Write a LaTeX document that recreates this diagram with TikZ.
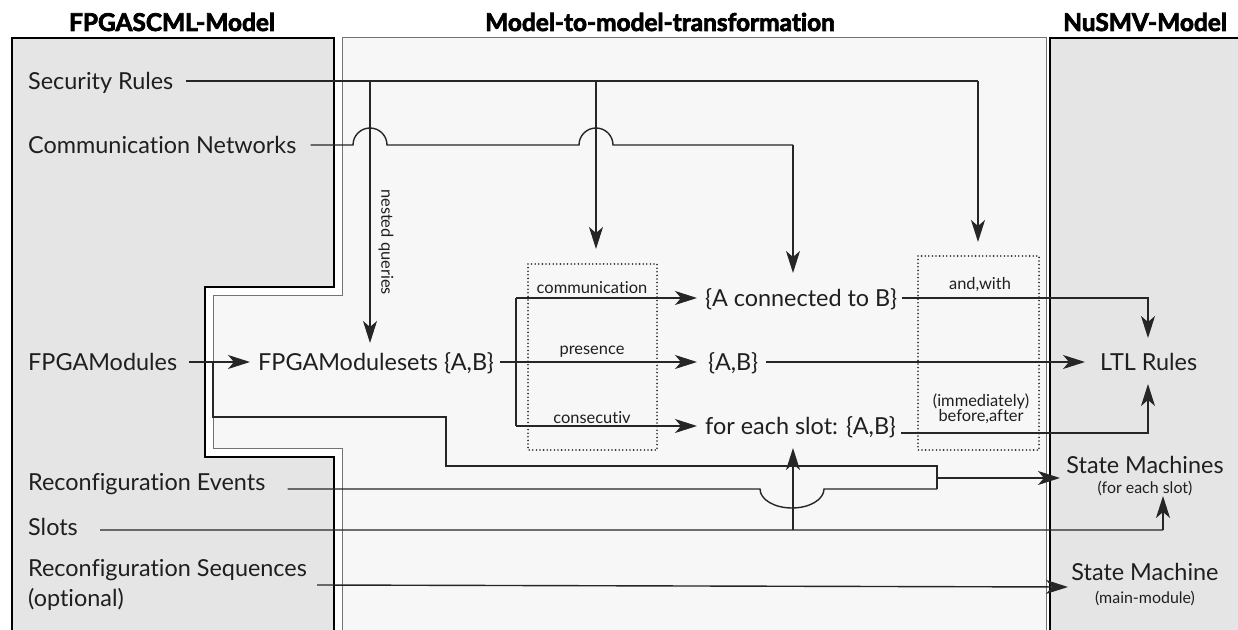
\documentclass[tikz,border=0pt]{standalone}
\usepackage{fontspec}
\setmainfont{Lato}[Ligatures=NoCommon]
\newfontfamily\headfont{Lato}[Ligatures=NoCommon, BoldFeatures={FakeBold=3}]
\usetikzlibrary{arrows.meta}

\begin{document}
\begin{tikzpicture}[x=1bp,y=-1bp,
  conn/.style={line width=1.4bp, draw=black!85},
  arr/.style={conn, -{Stealth[length=22bp,width=14bp,inset=6bp]}},
  big/.style={font=\fontsize{23.5}{30}\selectfont, inner sep=0pt, text height=16.8bp, text depth=0pt, text=black!88},
  lbl/.style={font=\fontsize{16.5}{19}\selectfont, inner sep=0pt, text=black!88},
  sub/.style={font=\fontsize{16}{18}\selectfont, inner sep=0pt, text=black!88},
  head/.style={font=\headfont\bfseries\fontsize{24.5}{28}\selectfont, inner sep=0pt},
  outer/.style={line width=2.8bp, draw=black, fill=black!10},
  inner/.style={line width=1bp, draw=black!55, fill=black!3},
  dotbox/.style={line width=1.8bp, draw=black!85, line cap=round, dash pattern=on 0bp off 3.6bp}
]
\path[use as bounding box] (0,0) rectangle (1238,630);
\clip (0,0) rectangle (1238,630);
\fill[white] (0,0) rectangle (1238,630);

% three model regions
\draw[outer] (12,38) -- (334,38) -- (334,287) -- (205,287) -- (205,457)
  -- (334,457) -- (334,650) -- (12,650) -- cycle;
\draw[inner] (342,38) -- (1046,38) -- (1046,650) -- (342,650) -- (342,448)
  -- (213,448) -- (213,296) -- (342,296) -- cycle;
\draw[outer] (1050,38) -- (1260,38) -- (1260,650) -- (1050,650) -- cycle;

% headings
\node[head] (h1) at (172,22) {FPGASCML-Model};
\node[head] (h2) at (660,22) {Model-to-model-transformation};
\node[head] (h3) at (1145,22) {NuSMV-Model};

% operator boxes
\draw[dotbox] (528,264) rectangle (657,450);
\draw[dotbox] (918,256) rectangle (1039,450);

% source elements
\node[big,anchor=west] (sec) at (28,81) {Security Rules};
\node[big,anchor=west] (comm) at (28,145) {Communication Networks};
\node[big,anchor=west] (fmod) at (28,362) {FPGAModules};
\node[big,anchor=west] (rce) at (28,482) {Reconfiguration Events};
\node[big,anchor=west] (slots) at (28,527) {Slots};
\node[font=\fontsize{23.5}{30}\selectfont, inner sep=0pt, text=black!88,
  anchor=west, align=left] (rseq) at (28,585) {Reconfiguration Sequences\\(optional)};

% intermediate elements
\node[big,anchor=west] (fms) at (258,362) {FPGAModulesets \{A,B\}};
\node[big,anchor=west] (acb) at (705,298) {\{A connected to B\}};
\node[big,anchor=west] (ab) at (708,362) {\{A,B\}};
\node[big,anchor=west] (fes) at (705,426) {for each slot: \{A,B\}};

% target elements
\node[big,anchor=west] (ltl) at (1100,362) {LTL Rules};
\node[big] (sm) at (1145,465) {State Machines};
\node[sub] (smsub) at (1145,488) {(for each slot)};
\node[big] (smm) at (1145,572) {State Machine};
\node[sub] (smmsub) at (1145,598) {(main-module)};

% labels
\node[lbl, rotate=-90] (nq) at (386,242) {nested queries};
\node[lbl] (lc) at (592,288) {communication};
\node[lbl] (lp) at (592,352) {presence};
\node[lbl] (lq) at (592,418) {consecutiv};
\node[lbl] (law) at (980,285) {and,with};
\node[lbl, align=center] (lib) at (981,409) {(immediately)\\[-4bp]before,after};

% routing points
\coordinate (s1) at (370,81);
\coordinate (s2) at (596,81);
\coordinate (s3) at (978,81);
\coordinate (t1) at (370,343);
\coordinate (t2) at (596,249);
\coordinate (t3) at (978,242);
\coordinate (c3) at (793,145);
\coordinate (u3) at (793,273);
\coordinate (b1) at (516,298);
\coordinate (b2) at (516,426);
\coordinate (l1) at (1148,338);
\coordinate (l2) at (1148,384);
\coordinate (m1) at (937,478);
\coordinate (m2) at (1060,478);
\coordinate (q1) at (1163,530);
\coordinate (q2) at (1163,496);
\coordinate (r1) at (793,530);
\coordinate (r2) at (793,448);
\coordinate (e1) at (1068,587);

% security rules
\draw[conn] ([xshift=13bp]sec.east) -- (s3);
\draw[arr] (s1) -- (t1);
\draw[arr] (s2) -- (t2);
\draw[arr] (s3) -- (t3);

% communication networks, hopping over the vertical feeds
\draw[conn] ([xshift=14bp]comm.east) -- (353,145)
  arc[start angle=180, end angle=360, radius=17] -- (579,145)
  arc[start angle=180, end angle=360, radius=17] -- (c3);
\draw[arr] (c3) -- (u3);

% FPGA modules
\draw[arr] ([xshift=12bp]fmod.east) -- ([xshift=-8bp]fms.west);
\draw[conn] (213,362) -- (213,417) -- (446,417) -- (446,466) -- (937,466) -- (937,489);
\draw[arr] (m1) -- (m2);

% module set branches
\draw[arr] ([xshift=6bp]fms.east) -- ([xshift=-11bp]ab.west);
\draw[conn] (b1) -- (b2);
\draw[arr] (b1) -- ([xshift=-8bp]acb.west);
\draw[arr] (b2) -- ([xshift=-8bp]fes.west);

% to LTL rules
\draw[arr] ([xshift=8bp]ab.east) -- ([xshift=-15bp]ltl.west);
\draw[arr] ([xshift=5bp]acb.east) -| (l1);
\draw[arr] ([xshift=5bp,yshift=-7bp]fes.east) -| (l2);

% reconfiguration events, dipping under the slot feed
\draw[conn] ([xshift=22bp,yshift=-7bp]rce.east) -- (760,489)
  arc[start angle=180, end angle=0, x radius=32, y radius=19] -- (937,489);

% slots
\draw[conn] ([xshift=22bp,yshift=-3bp]slots.east) -- (q1);
\draw[arr] (q1) -- (q2);
\draw[arr] (r1) -- (r2);

% reconfiguration sequences
\draw[arr] ([xshift=10bp]rseq.east) -- (e1);
\end{tikzpicture}
\end{document}
